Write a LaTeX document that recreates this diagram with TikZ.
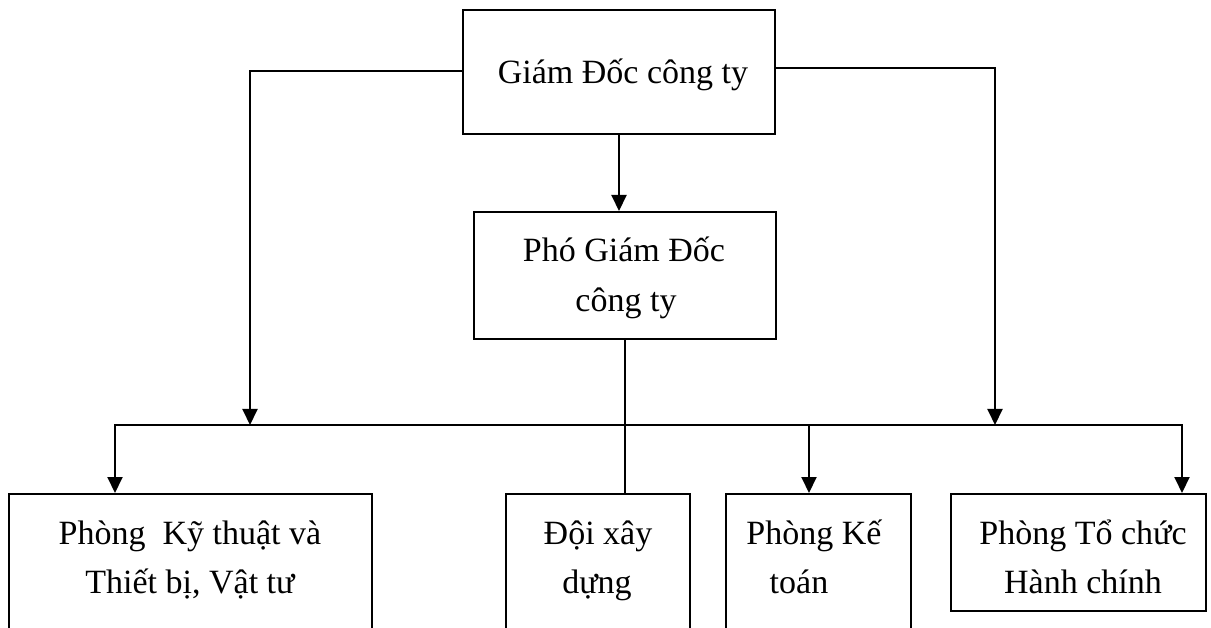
\documentclass[tikz,border=0pt]{standalone}
\usepackage{fontspec}
\setmainfont{Liberation Serif}
\usetikzlibrary{arrows.meta}
\begin{document}
\begin{tikzpicture}[x=1pt,y=-1pt,
  line width=2pt,
  box/.style={draw, line width=2pt, rectangle, inner sep=0pt, anchor=north west},
  lbl/.style={inner sep=0pt, anchor=base, font=\fontsize{34}{40}\selectfont},
  arr/.style={-{Triangle[width=15pt,length=16pt]}},
  arrboth/.style={{Triangle[width=15pt,length=16pt]}-{Triangle[width=15pt,length=16pt]}}]
\useasboundingbox (0,0) rectangle (1211,628);
\clip (0,0) rectangle (1211,628);
\fill[white] (0,0) rectangle (1211,628);
% boxes
\node[box, minimum width=312pt, minimum height=124pt] (gd) at (462,9) {};
\node[box, minimum width=302pt, minimum height=127pt] (pgd) at (473,211) {};
\node[box, minimum width=363pt, minimum height=160pt] (k) at (8,493) {};
\node[box, minimum width=184pt, minimum height=160pt] (doi) at (505,493) {};
\node[box, minimum width=185pt, minimum height=160pt] (kt) at (725,493) {};
\node[box, minimum width=255pt, minimum height=117pt] (tc) at (950,493) {};
% labels
\node[lbl] (gdA) at (623,84) {Giám Đốc công ty};
\node[lbl] (pgdA) at (624,262) {Phó Giám Đốc};
\node[lbl] (pgdB) at (626,312) {công ty};
\node[lbl] (kA) at (190,544) {Phòng\ \ Kỹ thuật và};
\node[lbl] (kB) at (190,593) {Thiết bị, Vật tư};
\node[lbl] (doiA) at (598,544) {Đội xây};
\node[lbl] (doiB) at (597,593) {dựng};
\node[lbl] (ktA) at (814,544) {Phòng Kế};
\node[lbl] (ktB) at (799,593) {toán};
\node[lbl] (tcA) at (1083,544) {Phòng Tổ chức};
\node[lbl] (tcB) at (1083,593) {Hành chính};
% coordinates
\coordinate (bl) at (250,425);
\coordinate (br) at (995,425);
\coordinate (busL) at (115,425);
\coordinate (busR) at (1182,425);
\coordinate (busKT) at (809,425);
% connectors
\draw[arr] (gd.south) -- (gd.south |- pgd.north);
\draw[arr] ([yshift=1pt]gd.west) -| (bl);
\draw[arr] ([yshift=4pt]gd.east) -| (br);
\draw[arrboth] (busL |- k.north) -- (busL) -- (busR) -- (busR |- tc.north);
\draw[arr] (busKT) -- (busKT |- kt.north);
\draw (pgd.south) -- (pgd.south |- doi.north);
\end{tikzpicture}
\end{document}
